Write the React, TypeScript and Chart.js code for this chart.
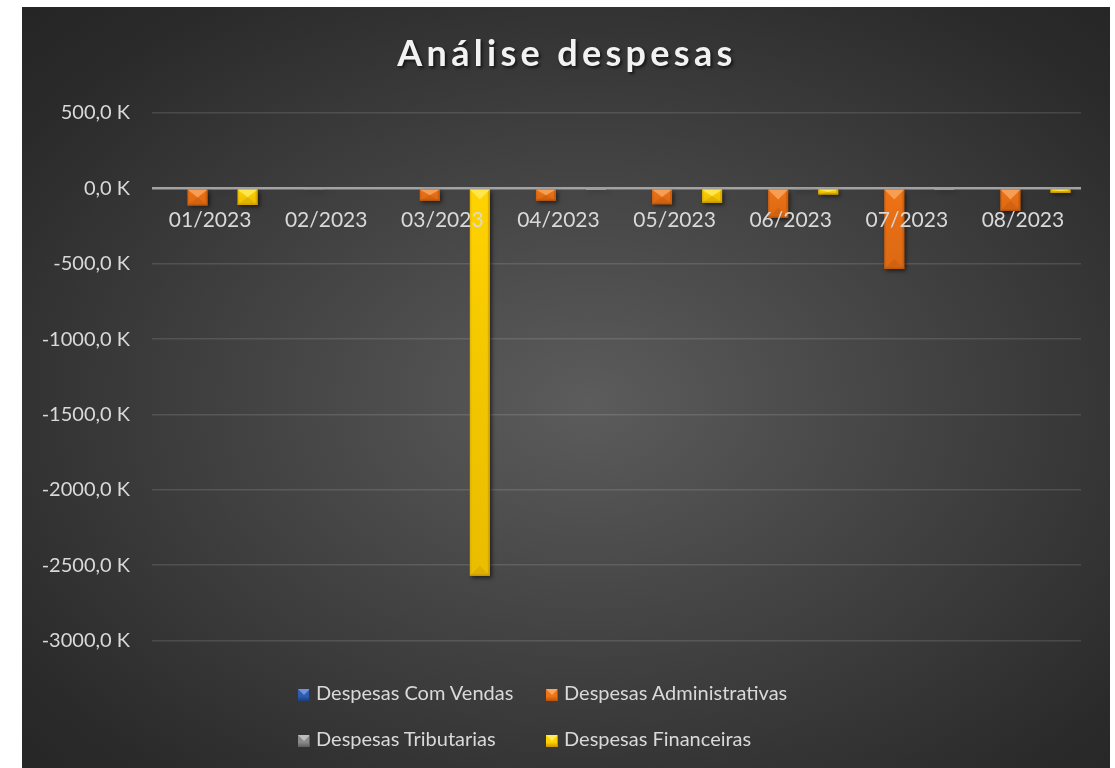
import React, { useEffect, useRef } from 'react';
import { Chart, registerables } from 'chart.js';

Chart.register(...registerables);

// ---------- data ----------
const chartTitle = 'Análise despesas';
const categories = ['01/2023', '02/2023', '03/2023', '04/2023', '05/2023', '06/2023', '07/2023', '08/2023'];
const seriesNames = ['Despesas Com Vendas', 'Despesas Administrativas', 'Despesas Tributarias', 'Despesas Financeiras'];
// values in thousands (K)
const despesasComVendas = [0, 0, 0, 0, 0, 0, 0, 0];
const despesasAdministrativas = [-113, -5, -83, -83, -106, -195, -535, -148];
const despesasTributarias = [-10, 0, 0, 0, 0, -2, -10, 0];
const despesasFinanceiras = [-110, 0, -2570, -4, -95, -40, -4, -29];
const yTickValues = [500, 0, -500, -1000, -1500, -2000, -2500, -3000];

const seriesValues = [despesasComVendas, despesasAdministrativas, despesasTributarias, despesasFinanceiras];

// ---------- styles ----------
const palettes = [
  { base: '#2F5BB0', light: '#6E93DA', dark: '#1E3C78' },
  { base: '#F07316', light: '#F8A65E', dark: '#B8520A' },
  { base: '#8A8A8A', light: '#BDBDBD', dark: '#5E5E5E' },
  { base: '#FFD200', light: '#FFEA5A', dark: '#C99400' },
];

const FONT = 'Lato, "Open Sans", sans-serif';

const formatK = (v: number) => `${v.toFixed(1).replace('.', ',')} K`;

const shadowPlugin = {
  id: 'barShadow',
  beforeDatasetsDraw(chart: any) {
    const ctx = chart.ctx;
    ctx.save();
    ctx.shadowColor = 'rgba(0,0,0,0.55)';
    ctx.shadowBlur = 4;
    ctx.shadowOffsetX = 2;
    ctx.shadowOffsetY = 2;
  },
  afterDatasetsDraw(chart: any) {
    chart.ctx.restore();
  },
};

const bevelPlugin = {
  id: 'bevel',
  afterDatasetsDraw(chart: any) {
    const ctx = chart.ctx;
    const area = chart.chartArea;
    ctx.save();
    ctx.beginPath();
    ctx.rect(area.left, area.top, area.right - area.left, area.bottom - area.top);
    ctx.clip();
    chart.data.datasets.forEach((_ds: any, di: number) => {
      const meta = chart.getDatasetMeta(di);
      if (meta.hidden) return;
      const pal = palettes[di];
      meta.data.forEach((bar: any) => {
        const { x, y, base, width } = bar.getProps(['x', 'y', 'base', 'width'], true);
        const L = x - width / 2;
        const R = x + width / 2;
        const T = Math.min(y, base);
        const B = Math.max(y, base);
        const h = B - T;
        if (h < 2) return;
        const b = Math.min(width / 2, h / 2);
        const g = ctx.createLinearGradient(0, T, 0, B);
        g.addColorStop(0, 'rgba(0,0,0,0)');
        g.addColorStop(1, 'rgba(80,40,0,0.12)');
        ctx.fillStyle = g;
        ctx.fillRect(L, T, width, h);
        ctx.fillStyle = pal.dark;
        ctx.globalAlpha = 0.55;
        ctx.fillRect(R - 2, T, 2, h);
        ctx.globalAlpha = 0.3;
        ctx.fillRect(L, T, 1.5, h);
        ctx.globalAlpha = 1;
        ctx.beginPath();
        ctx.moveTo(L, T);
        ctx.lineTo(R, T);
        ctx.lineTo(x, T + b);
        ctx.closePath();
        ctx.fillStyle = pal.light;
        ctx.globalAlpha = 0.85;
        ctx.fill();
        ctx.beginPath();
        ctx.moveTo(L, B);
        ctx.lineTo(R, B);
        ctx.lineTo(x, B - b);
        ctx.closePath();
        ctx.fillStyle = pal.dark;
        ctx.globalAlpha = 0.35;
        ctx.fill();
        ctx.globalAlpha = 1;
        ctx.fillStyle = pal.dark;
        ctx.globalAlpha = 0.6;
        ctx.fillRect(L, B - 1.5, width, 1.5);
        ctx.globalAlpha = 1;
      });
    });
    ctx.restore();
  },
};

function LegendMarker({ di }: { di: number }) {
  const pal = palettes[di];
  return (
    <div
      style={{
        position: 'absolute',
        left: 0,
        top: 9,
        width: 12,
        height: 12,
        boxSizing: 'border-box',
        background: `linear-gradient(to bottom, ${pal.base} 0%, ${pal.base} 60%, ${pal.dark} 100%)`,
        borderRight: `1px solid ${pal.dark}`,
        overflow: 'hidden',
      }}
    >
      <div
        style={{
          position: 'absolute',
          left: 0,
          top: 0,
          width: 0,
          height: 0,
          borderLeft: '6px solid transparent',
          borderRight: '6px solid transparent',
          borderTop: `6px solid ${pal.light}`,
        }}
      />
    </div>
  );
}

export default function App() {
  const canvasRef = useRef<HTMLCanvasElement | null>(null);

  useEffect(() => {
    if (!canvasRef.current) return;
    const chart = new Chart(canvasRef.current, {
      type: 'bar',
      data: {
        labels: categories,
        datasets: seriesNames.map((name, i) => ({
          label: name,
          data: seriesValues[i],
          backgroundColor: palettes[i].base,
          borderWidth: 0,
          categoryPercentage: 0.862,
          barPercentage: 0.8,
        })),
      },
      options: {
        animation: false,
        responsive: true,
        maintainAspectRatio: false,
        layout: { padding: { top: 106, right: 29, bottom: 127.5, left: 0 } },
        plugins: {
          legend: { display: false },
          title: { display: false },
          tooltip: { enabled: false },
        },
        scales: {
          x: {
            position: { y: 0 } as any,
            z: 1,
            offset: true,
            grid: { display: false, drawTicks: false },
            border: { display: false },
            ticks: {
              z: 1,
              color: '#d9d9d9',
              font: { family: FONT, size: 21 },
              padding: 19,
              maxRotation: 0,
              autoSkip: false,
            } as any,
          },
          y: {
            min: -3000,
            max: 500,
            afterBuildTicks: (scale: any) => {
              scale.ticks = yTickValues.map((v) => ({ value: v }));
            },
            afterFit: (scale: any) => {
              scale.width = 130;
            },
            grid: {
              drawTicks: false,
              color: (c: any) => (c.tick && c.tick.value === 0 ? '#a3a3a3' : 'rgba(255,255,255,0.12)'),
              lineWidth: (c: any) => (c.tick && c.tick.value === 0 ? 2.5 : 1.5),
            },
            border: { display: false },
            ticks: {
              color: '#d9d9d9',
              font: { family: FONT, size: 20 },
              padding: 22,
              callback: (v: any) => formatK(Number(v)),
            },
          },
        },
      },
      plugins: [shadowPlugin, bevelPlugin],
    });
    return () => chart.destroy();
  }, []);

  const legendCols = [276, 524];
  const legendRows = [673, 719];

  return (
    <div
      style={{
        position: 'absolute',
        left: 22,
        top: 7,
        width: 1088,
        height: 761,
        background: 'radial-gradient(ellipse farthest-corner at 52% 52%, #5c5c5c 0%, #474747 35%, #2a2a2a 85%, #252525 100%)',
        overflow: 'hidden',
        fontFamily: FONT,
      }}
    >
      <div style={{ position: 'absolute', left: 0, top: 0, width: 1088, height: 761 }}>
        <canvas ref={canvasRef} />
      </div>
      <div
        style={{
          position: 'absolute',
          left: 0,
          top: 24,
          width: 1088,
          textAlign: 'center',
          fontFamily: FONT,
          fontWeight: 700,
          fontSize: 36,
          lineHeight: 1.2,
          letterSpacing: '4.3px',
          paddingLeft: 2,
          color: '#f2f2f2',
          textShadow: '2px 2px 3px rgba(0,0,0,0.6)',
          boxSizing: 'border-box',
        }}
      >
        {chartTitle}
      </div>
      {seriesNames.map((name, i) => (
        <div
          key={name}
          style={{
            position: 'absolute',
            left: legendCols[i % 2],
            top: legendRows[Math.floor(i / 2)],
            height: 24,
            whiteSpace: 'nowrap',
          }}
        >
          <LegendMarker di={i} />
          <span
            style={{
              position: 'absolute',
              left: 18,
              top: 0,
              fontSize: 20,
              lineHeight: 1.2,
              color: '#d9d9d9',
              fontFamily: FONT,
            }}
          >
            {name}
          </span>
        </div>
      ))}
    </div>
  );
}
